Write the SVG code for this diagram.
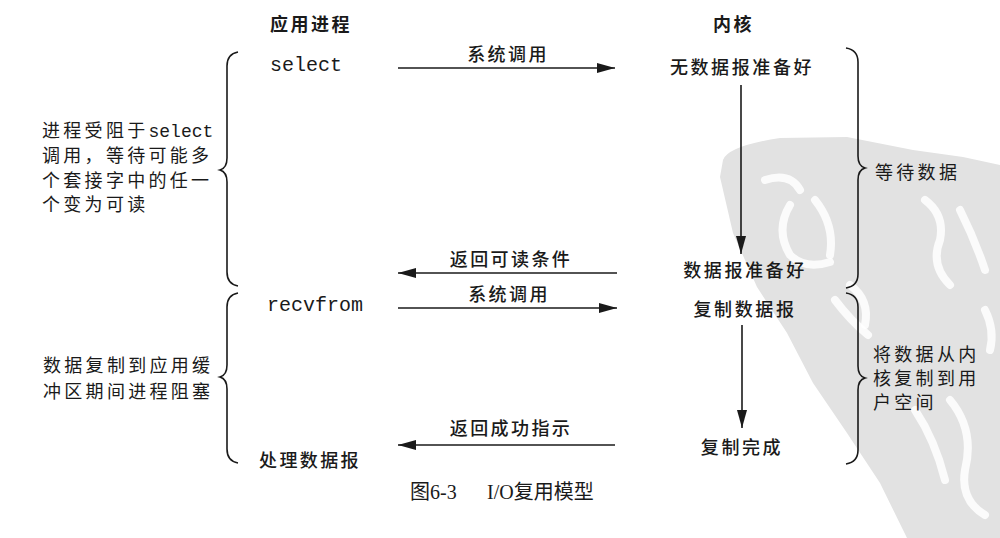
<svg xmlns="http://www.w3.org/2000/svg" width="1000" height="538" viewBox="0 0 1000 538">
<style>
.cj{font-family:"Noto Sans CJK SC","Liberation Sans",sans-serif;fill:#1a1a1a}
.hd{font-size:18px;font-weight:700;letter-spacing:2.5px}
.k{font-size:18px;font-weight:500;text-anchor:middle;letter-spacing:2.6px}
.lb{font-size:18px;font-weight:500;text-anchor:middle;letter-spacing:2.4px}
.side{font-size:18px;letter-spacing:3.3px}
.mono{font-family:"Liberation Mono","DejaVu Sans Mono",monospace;fill:#1a1a1a}
.ln{stroke:#1a1a1a;stroke-width:1.6;fill:none}
.br{stroke:#1a1a1a;stroke-width:1.6;fill:none}
.wm{stroke:#ffffff;stroke-width:8;fill:none;stroke-linecap:round;opacity:0.85}
</style>
<defs>
<marker id="ah" viewBox="0 0 18 10" refX="18" refY="5" markerWidth="18" markerHeight="10" markerUnits="userSpaceOnUse" orient="auto">
<path d="M0,0 L18,5 L0,10 Z" fill="#1a1a1a"/>
</marker>
</defs>
<rect width="1000" height="538" fill="#ffffff"/>
<g id="watermark">
<path d="M723,160 Q728,146 780,138 L847,137 L913,150 L963,157 L1000,165 L1000,538 L907,538 L880,483 L847,433 L813,383 L787,333 L757,287 L733,233 L720,177 Z" fill="#e2e2e2"/>
<path class="wm" d="M765,180 Q790,172 800,190"/>
<path class="wm" d="M790,205 Q775,230 790,255 Q805,270 830,262"/>
<path class="wm" d="M815,200 Q835,225 830,255"/>
<path class="wm" d="M835,300 Q850,320 868,335"/>
<path class="wm" d="M850,285 Q870,300 865,325"/>
<path class="wm" d="M925,200 Q945,215 940,240 Q930,265 950,285"/>
<path class="wm" d="M960,210 Q975,240 985,270"/>
<path class="wm" d="M915,410 Q935,440 945,480"/>
<path class="wm" d="M950,400 Q975,430 965,470 Q960,500 985,515"/>
<path class="wm" d="M985,310 Q995,330 990,350"/>
</g>
<g id="headers">
<text class="cj hd" x="270" y="31">应用进程</text>
<text class="cj hd" x="713" y="31">内核</text>
</g>
<g id="app-select"><text class="mono" x="270" y="71" font-size="20">select</text></g>
<g id="app-recvfrom"><text class="mono" x="267" y="311" font-size="20">recvfrom</text></g>
<g id="app-process"><text class="cj lb" x="310" y="467">处理数据报</text></g>
<g id="k-nodata"><text class="cj k" x="742" y="74">无数据报准备好</text></g>
<g id="k-ready"><text class="cj k" x="745" y="277">数据报准备好</text></g>
<g id="k-copy"><text class="cj k" x="745" y="316">复制数据报</text></g>
<g id="k-done"><text class="cj k" x="742" y="454">复制完成</text></g>
<g id="left-note1">
<text class="cj side" x="42" y="137">进程受阻于<tspan class="mono" font-size="18" letter-spacing="0">select</tspan></text>
<text class="cj side" x="42" y="162">调用，等待可能多</text>
<text class="cj side" x="42" y="187">个套接字中的任一</text>
<text class="cj side" x="42" y="211">个变为可读</text>
</g>
<g id="left-note2">
<text class="cj side" x="43" y="372">数据复制到应用缓</text>
<text class="cj side" x="43" y="398">冲区期间进程阻塞</text>
</g>
<g id="right-note1"><text class="cj side" x="875" y="179" letter-spacing="1.5">等待数据</text></g>
<g id="right-note2">
<text class="cj side" x="873" y="361" font-size="17" letter-spacing="4.2">将数据从内</text>
<text class="cj side" x="873" y="385" font-size="17" letter-spacing="4.2">核复制到用</text>
<text class="cj side" x="873" y="409" font-size="17" letter-spacing="4.2">户空间</text>
</g>
<g id="braces">
<path class="br" d="M238,52 Q227,54 227,66 L227,158 Q227,168 220,170 Q227,172 227,182 L227,272 Q227,284 238,286"/>
<path class="br" d="M238,293 Q227,295 227,307 L227,365 Q227,375 220,377 Q227,379 227,389 L227,449 Q227,461 238,463"/>
<path class="br" d="M846,48 Q858,50 858,62 L858,156 Q858,166 865,168 Q858,170 858,180 L858,274 Q858,286 846,288"/>
<path class="br" d="M846,293 Q858,295 858,307 L858,366 Q858,376 865,378 Q858,380 858,390 L858,450 Q858,462 846,464"/>
</g>
<g id="connectors">
<line class="ln" x1="398" y1="68" x2="615" y2="68" marker-end="url(#ah)"/>
<line class="ln" x1="617" y1="273" x2="398" y2="273" marker-end="url(#ah)"/>
<line class="ln" x1="398" y1="308" x2="617" y2="308" marker-end="url(#ah)"/>
<line class="ln" x1="615" y1="445" x2="398" y2="445" marker-end="url(#ah)"/>
<line class="ln" x1="741" y1="85" x2="741" y2="254" marker-end="url(#ah)"/>
<line class="ln" x1="742" y1="325" x2="742" y2="428" marker-end="url(#ah)"/>
<text class="cj lb" x="508" y="61">系统调用</text>
<text class="cj lb" x="511" y="266">返回可读条件</text>
<text class="cj lb" x="509" y="301">系统调用</text>
<text class="cj lb" x="511" y="435">返回成功指示</text>
</g>
<g id="caption">
<text x="410" y="499" font-family="Liberation Serif,'Noto Sans CJK SC',serif" font-size="20" fill="#1a1a1a">图6-3<tspan x="487">I/O复用模型</tspan></text>
</g>
</svg>
